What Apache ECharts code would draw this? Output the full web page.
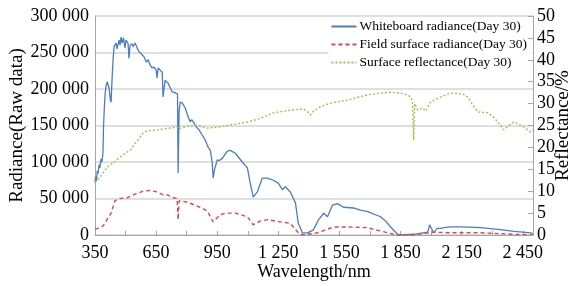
<!DOCTYPE html>
<html>
<head>
<meta charset="utf-8">
<script src="https://cdn.jsdelivr.net/npm/echarts@6/dist/echarts.min.js"></script>
<style>html,body{margin:0;padding:0;background:#fff;}#c{width:573px;height:286px;}</style>
</head>
<body>
<div id="c"></div>
<script>
const seriesNames = ['Whiteboard radiance(Day 30)', 'Field surface radiance(Day 30)', 'Surface reflectance(Day 30)'];

const blueWl = [350,353,357,361,365,370,374,379,384,389,392,396,400,405,410,415,420,425,429,434,439,444,453,458,468,473,478,483,490,497,502,512,517,522,532,537,547,557,566,581,591,601,611,620,630,640,650,655,660,680,684,694,709,729,743,755,758,763,768,778,793,807,817,825,832,847,861,876,891,906,916,925,930,937,950,960,975,999,1014,1039,1073,1098,1112,1127,1147,1171,1196,1225,1250,1270,1284,1309,1334,1348,1368,1393,1422,1447,1466,1471,1491,1516,1540,1570,1619,1653,1688,1752,1780,1801,1835,1850,1914,1960,1983,1993,2003,2012,2030,2037,2050,2061,2096,2150,2243,2350,2406,2450,2489,2500];
const blueVal = [72000,80000,74000,88000,84000,96000,92000,104000,100000,112000,150000,175000,194000,205000,210000,205000,200000,185000,182000,215000,242000,258000,263000,255000,267000,260000,271000,263000,270000,256000,267000,263000,242000,260000,262000,258000,263000,256000,251000,247000,244000,237000,240000,233000,229000,230000,226000,215000,229000,223000,189000,212000,208000,196000,195000,193000,85000,170000,182000,181000,174000,162000,155000,158000,155000,148000,144000,137000,130000,120000,116000,100000,78000,90000,103000,102000,105000,115000,116000,112000,100000,92000,71000,52000,59000,78000,78000,75000,71000,62000,66000,59000,44000,16000,3000,3000,7000,21000,27000,30000,25000,41000,43000,38000,37000,34000,32000,25000,18000,11000,1000,0,1000,3000,4000,14000,8000,3000,9000,11000,9000,10000,11000,11000,10000,7000,5000,4000,3000,1000];

const redWl = [350,375,389,409,429,448,473,507,547,586,620,655,670,684,704,734,753,758,763,803,866,901,930,965,999,1039,1098,1127,1161,1196,1260,1309,1348,1373,1442,1521,1590,1688,1786,1835,1914,2012,2081,2243,2406,2500];
const redVal = [8000,10000,12000,21000,30000,47000,50000,51000,56000,60000,61000,59000,57000,55000,55000,51000,50000,21000,47000,45000,38000,33000,18000,28000,30000,30000,25000,14000,19000,21000,18000,16000,3000,0,3000,11000,11000,10000,3000,0,0,4000,3000,3000,1000,0];

const greenWl = [350,380,409,440,473,522,557,586,606,655,700,753,760,800,851,901,965,1039,1098,1161,1225,1309,1373,1393,1407,1422,1457,1506,1590,1688,1752,1800,1850,1884,1899,1909,1914,1919,1934,1958,1973,1998,2047,2096,2155,2180,2204,2229,2278,2307,2332,2357,2381,2406,2455,2489,2500];
const greenVal = [12,13.5,15.5,16.5,17.8,19.4,21.5,23.3,23.8,24.0,24.3,24.7,24.2,24.8,25.0,24.4,24.7,25.3,25.8,26.6,27.9,28.5,28.8,28.2,27.4,28.3,29.3,30.1,30.8,32.0,32.4,32.6,32.4,32.0,31.5,30.5,21.7,30.0,28.5,29.0,28.3,30.4,31.5,32.4,32.2,31.5,29.7,28.1,27.9,26.9,25.5,24.0,25.0,25.8,24.7,23.5,24.0];

const xLabelStep = 300;
const xMin = 350, xMax = 2500, xTick = 150;

function fmt(v) { return String(v).replace(/\B(?=(\d{3})+(?!\d))/g, ' '); }
function zip(a, b) { return a.map((x, i) => [x, b[i]]); }

const FONT = "'Liberation Serif','Times New Roman',serif";
const chart = echarts.init(document.getElementById('c'), null, {renderer: 'canvas'});
chart.setOption({
  animation: false,
  backgroundColor: '#fff',
  textStyle: {fontFamily: FONT, color: '#000'},
  grid: {left: 95, right: 40, top: 16, bottom: 51, containLabel: false, outerBoundsMode: 'none'},
  legend: {
    orient: 'vertical', right: 41, top: 18,
    backgroundColor: '#fff', padding: [1, 5, 3, 2],
    itemWidth: 25, itemHeight: 10, itemGap: 3,
    itemStyle: {opacity: 0},
    textStyle: {fontFamily: FONT, fontSize: 13.5, lineHeight: 15, color: '#000', padding: [0, 0, 0, -2]},
    data: seriesNames
  },
  xAxis: {
    type: 'value', min: xMin, max: xMax, interval: xTick,
    name: 'Wavelength/nm', nameLocation: 'middle', nameGap: 28, nameMoveOverlap: false,
    nameTextStyle: {fontFamily: FONT, fontSize: 18, color: '#000'},
    axisLine: {lineStyle: {color: '#a6a6a6', width: 1}},
    axisTick: {show: true, inside: true, length: 4, lineStyle: {color: '#a6a6a6'}},
    splitLine: {show: false},
    axisLabel: {
      fontFamily: FONT, fontSize: 18, color: '#000', margin: 9,
      formatter: v => ((v - xMin) % xLabelStep === 0 ? fmt(v) : '')
    }
  },
  yAxis: [{
    type: 'value', min: 0, max: 300000, interval: 50000,
    name: 'Radiance(Raw data)', nameLocation: 'middle', nameGap: 68, nameMoveOverlap: false,
    nameTextStyle: {fontFamily: FONT, fontSize: 19, color: '#000'},
    axisLine: {show: true, lineStyle: {color: '#a6a6a6'}},
    axisTick: {show: false},
    splitLine: {show: true, lineStyle: {color: '#d4d4d4', width: 1.5}},
    axisLabel: {fontFamily: FONT, fontSize: 18, color: '#000', margin: 6, formatter: v => fmt(v)}
  }, {
    type: 'value', min: 0, max: 50, interval: 5, position: 'right', z: 10,
    name: 'Reflectance/%', nameLocation: 'middle', nameGap: 21, nameRotate: 90, nameMoveOverlap: false,
    nameTextStyle: {fontFamily: FONT, fontSize: 19, color: '#000'},
    axisLine: {show: true, lineStyle: {color: '#a6a6a6'}},
    axisTick: {show: true, inside: true, length: 5, lineStyle: {color: '#a6a6a6'}},
    splitLine: {show: false},
    axisLabel: {fontFamily: FONT, fontSize: 18, color: '#000', margin: 4}
  }],
  series: [{
    name: seriesNames[0], type: 'line', yAxisIndex: 0, showSymbol: false, symbol: 'none',
    data: zip(blueWl, blueVal),
    lineStyle: {color: '#4a7dc4', width: 1.3}, itemStyle: {color: '#4a7dc4'}
  }, {
    name: seriesNames[1], type: 'line', yAxisIndex: 0, showSymbol: false, symbol: 'none',
    data: zip(redWl, redVal),
    lineStyle: {color: '#e0474c', width: 1.4, type: [4, 3]}, itemStyle: {color: '#e0474c'}
  }, {
    name: seriesNames[2], type: 'line', yAxisIndex: 1, showSymbol: false, symbol: 'none',
    data: zip(greenWl, greenVal),
    lineStyle: {color: '#a2c24a', width: 1.4, type: [2, 2]}, itemStyle: {color: '#a2c24a'}
  }]
});
</script>
</body>
</html>
